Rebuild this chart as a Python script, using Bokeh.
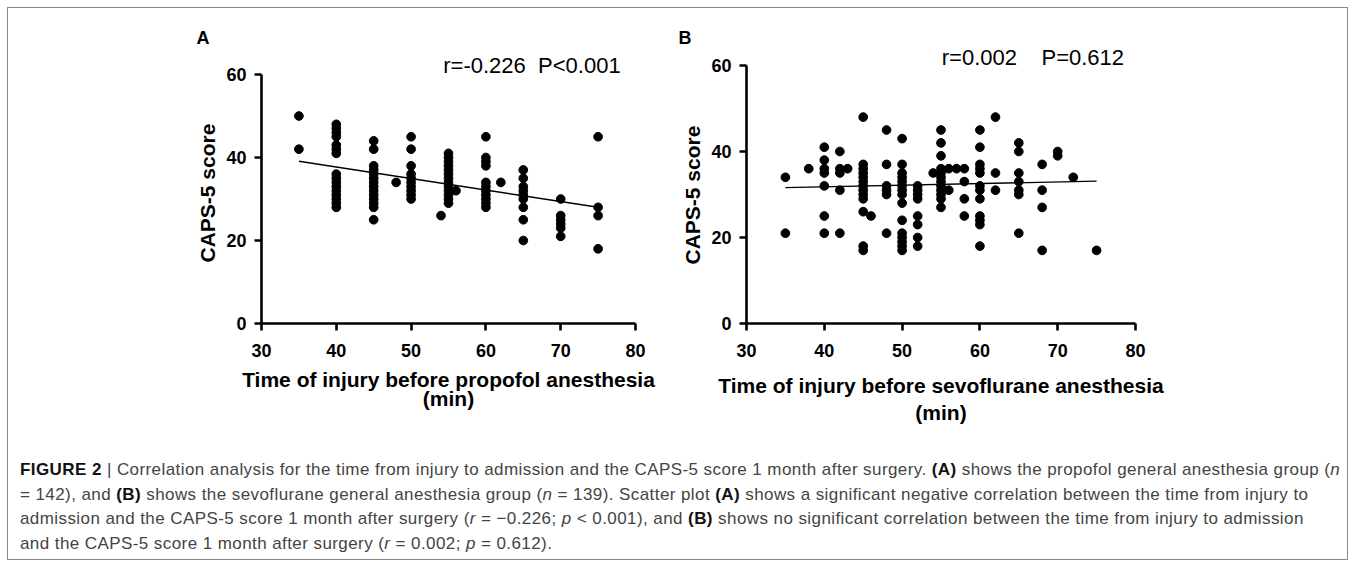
from bokeh.plotting import figure
from bokeh.models import Title, Label, Div, Range1d, FixedTicker
from bokeh.layouts import column, row
from bokeh.embed import file_html
from bokeh.resources import INLINE

# ---------------- data ----------------
x_ticks = [30, 40, 50, 60, 70, 80]
y_ticks = [0, 20, 40, 60]
x_lim = (30, 80)
y_lim = (0, 60)

# Panel A: time of injury before propofol anesthesia vs CAPS-5
a_x = ([35] * 2 + [40] * 16 + [45] * 14 + [48] + [50] * 10 + [54] + [55] * 13 + [56]
       + [60] * 11 + [62] + [65] * 9 + [70] * 6 + [75] * 4)
a_y = ([50, 42]
       + [48, 47, 46, 45, 43, 42, 41, 36, 35, 34, 33, 32, 31, 30, 29, 28]
       + [44, 42, 38, 37, 36, 35, 34, 33, 32, 31, 30, 29, 28, 25]
       + [34]
       + [45, 42, 38, 36, 35, 34, 33, 32, 31, 30]
       + [26]
       + [41, 40, 39, 38, 37, 36, 35, 34, 33, 32, 31, 30, 29]
       + [32]
       + [45, 40, 39, 38, 34, 33, 32, 31, 30, 29, 28]
       + [34]
       + [37, 35, 33, 32, 31, 30, 28, 25, 20]
       + [30, 26, 25, 24, 23, 21]
       + [45, 28, 26, 18])
a_fit_x = [35, 75]
a_fit_y = [39.1, 28.0]

# Panel B: time of injury before sevoflurane anesthesia vs CAPS-5
b_x = ([35] * 2 + [38] + [40] * 7 + [42] * 5 + [43] + [45] * 13 + [46] + [48] * 6
       + [50] * 15 + [52] * 8 + [54] + [55] * 12 + [56] * 2 + [57] + [58] * 4
       + [60] * 12 + [62] * 3 + [65] * 7 + [68] * 4 + [70] * 2 + [72] + [75])
b_y = ([34, 21]
       + [36]
       + [41, 38, 36, 35, 32, 25, 21]
       + [40, 36, 35, 31, 21]
       + [36]
       + [48, 37, 36, 35, 34, 33, 32, 31, 30, 29, 26, 18, 17]
       + [25]
       + [45, 37, 32, 31, 30, 21]
       + [43, 37, 35, 34, 33, 32, 31, 30, 28, 24, 21, 20, 19, 18, 17]
       + [32, 31, 30, 29, 25, 23, 20, 18]
       + [35]
       + [45, 42, 39, 36, 35, 34, 33, 32, 31, 30, 29, 27]
       + [36, 31]
       + [36]
       + [36, 33, 29, 25]
       + [45, 41, 37, 36, 35, 32, 31, 29, 25, 24, 23, 18]
       + [48, 35, 31]
       + [42, 40, 35, 33, 31, 30, 21]
       + [37, 31, 27, 17]
       + [40, 39]
       + [34]
       + [17])
b_fit_x = [35, 75]
b_fit_y = [31.6, 33.1]

FONT = "Liberation Sans"
FIG_H = 426
MB_TOP = 40
MB_BOTTOM = 111


def make_panel(xs, ys, fx, fy, xlabel, letter, stat, width,
               mb_left, mb_right, data_h, letter_offset, ylabel_offset,
               stat_x, stat_y, xlabel_standoff, xlabel_line_height):
    # frame height in px; the 0..60 part of the y axis spans data_h px from the bottom
    frame_h = FIG_H - MB_TOP - MB_BOTTOM
    y_end = y_lim[1] * frame_h / data_h
    p = figure(width=width, height=FIG_H, x_range=Range1d(*x_lim),
               y_range=Range1d(y_lim[0], y_end),
               min_border_left=mb_left, min_border_right=mb_right,
               min_border_top=MB_TOP, min_border_bottom=MB_BOTTOM,
               toolbar_location=None, output_backend="svg",
               outline_line_color=None, background_fill_color="white",
               border_fill_color="white")
    p.grid.visible = False
    p.xaxis.ticker = FixedTicker(ticks=x_ticks)
    p.yaxis.ticker = FixedTicker(ticks=y_ticks)
    p.yaxis.bounds = y_lim
    for ax in (p.xaxis[0], p.yaxis[0]):
        ax.axis_line_width = 2.6
        ax.axis_line_color = "black"
        ax.major_tick_line_width = 2.6
        ax.major_tick_line_color = "black"
        ax.major_tick_out = 7
        ax.major_tick_in = 0
        ax.minor_tick_out = 0
        ax.minor_tick_in = 0
        ax.major_label_text_font = FONT
        ax.major_label_text_font_style = "bold"
        ax.major_label_text_font_size = "18px"
        ax.major_label_text_color = "black"
        ax.axis_label_text_font = FONT
        ax.axis_label_text_font_style = "bold"
        ax.axis_label_text_font_size = "21px"
        ax.axis_label_text_color = "black"
    p.xaxis.major_label_standoff = 13
    p.yaxis.major_label_standoff = 8
    p.xaxis.axis_label = xlabel
    p.xaxis.axis_label_standoff = xlabel_standoff
    p.xaxis.axis_label_text_line_height = xlabel_line_height

    # y-axis title, aligned on the 0..60 part of the axis
    p.add_layout(Title(text="CAPS-5 score", align="left", offset=ylabel_offset, standoff=10,
                       text_font=FONT, text_font_style="bold", text_font_size="21px",
                       text_color="black"), "left")

    p.scatter(xs, ys, size=8.7, color="black")
    p.line(fx, fy, line_width=1.4, color="black")

    p.add_layout(Label(x=stat_x, y=stat_y, text=stat, text_font=FONT,
                       text_font_size="22px", text_color="black",
                       text_align="left", text_baseline="middle"))
    p.add_layout(Title(text=letter, align="left", offset=letter_offset,
                       standoff=2, text_font=FONT, text_font_style="bold",
                       text_font_size="18px", text_color="black"), "above")
    return p


pA = make_panel(a_x, a_y, a_fit_x, a_fit_y,
                "Time of injury before propofol anesthesia\n(min)", "A", "r=-0.226 \u00a0P<0.001",
                width=652, mb_left=253, mb_right=25, data_h=249, letter_offset=-65,
                ylabel_offset=61, stat_x=54.3, stat_y=62.2,
                xlabel_standoff=8, xlabel_line_height=0.85)

pB = make_panel(b_x, b_y, b_fit_x, b_fit_y,
                "Time of injury before sevoflurane anesthesia\n(min)", "B",
                "r=0.002 \u00a0\u00a0\u00a0P=0.612",
                width=687, mb_left=86, mb_right=212, data_h=258, letter_offset=-68,
                ylabel_offset=59, stat_x=55.1, stat_y=61.86,
                xlabel_standoff=14, xlabel_line_height=1.2)

caption_html = (
    '<div style="font-family:\'Liberation Sans\',Arial,sans-serif;font-size:17px;'
    'letter-spacing:0.42px;line-height:24.5px;color:#444;white-space:nowrap;'
    'padding:19px 0 0 7px;">'
    '<b style="color:#111">FIGURE 2</b> | Correlation analysis for the time from injury to admission '
    'and the CAPS-5 score 1 month after surgery. <b style="color:#111">(A)</b> shows the propofol '
    'general anesthesia group (<i>n</i><br>'
    '= 142), and <b style="color:#111">(B)</b> shows the sevoflurane general anesthesia group '
    '(<i>n</i> = 139). Scatter plot <b style="color:#111">(A)</b> shows a significant negative '
    'correlation between the time from injury to<br>'
    'admission and the CAPS-5 score 1 month after surgery (<i>r</i> = &minus;0.226; <i>p</i> &lt; 0.001), '
    'and <b style="color:#111">(B)</b> shows no significant correlation between the time from injury '
    'to admission<br>'
    'and the CAPS-5 score 1 month after surgery (<i>r</i> = 0.002; <i>p</i> = 0.612).'
    '</div>'
)
caption = Div(text=caption_html, width=1339, height=125)

layout = column(row(pA, pB), caption, margin=(7, 0, 0, 7), width=1341, height=553,
                sizing_mode="fixed", styles={"border": "1px solid #8a8a8a"})

with open("out.html", "w") as f:
    f.write(file_html(layout, INLINE))
